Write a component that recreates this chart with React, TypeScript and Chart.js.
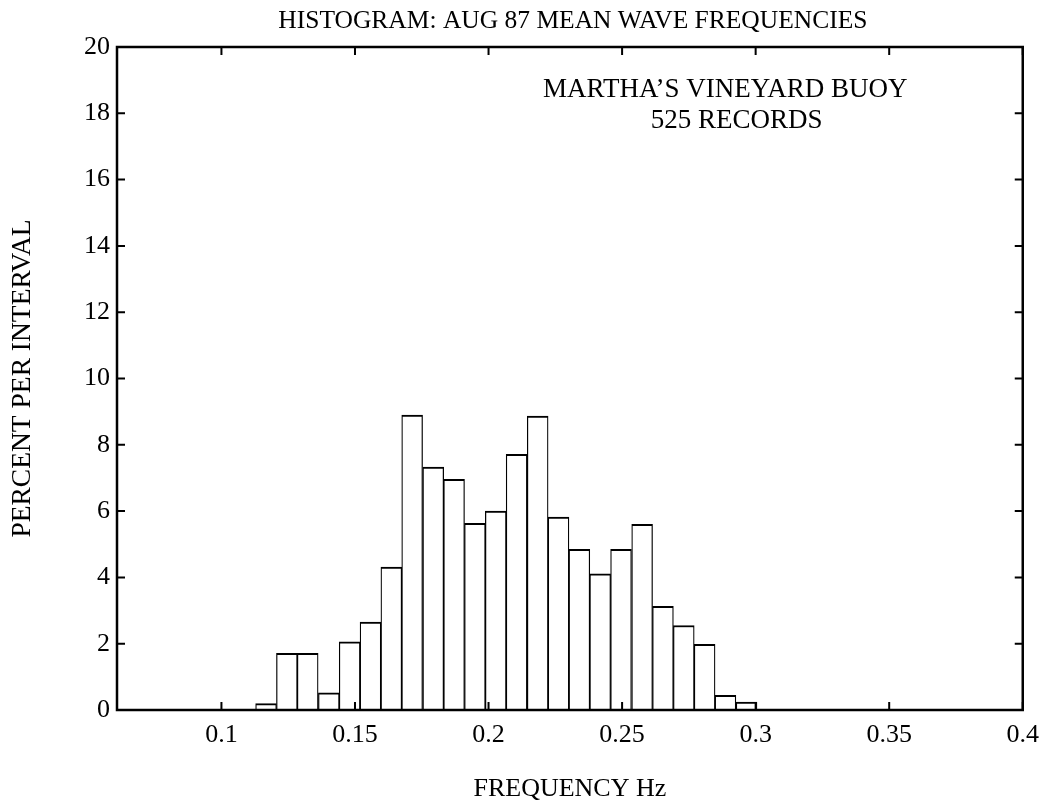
import React, { useEffect, useRef } from "react";
import { Chart, registerables } from "chart.js";

Chart.register(...registerables);

// Bin centres (Hz) and percent of records per interval
const binCenters = [
  0.1167, 0.1245, 0.1323, 0.1402, 0.148, 0.1558, 0.1636, 0.1714, 0.1793, 0.1871, 0.1949, 0.2027,
  0.2105, 0.2184, 0.2262, 0.234, 0.2418, 0.2496, 0.2575, 0.2653, 0.2731, 0.2809, 0.2887, 0.2966,
];
const percentValues = [
  0.19, 1.71, 1.71, 0.52, 2.06, 2.65, 4.31, 8.9, 7.33, 6.96, 5.63, 6.0,
  7.71, 8.87, 5.82, 4.85, 4.11, 4.85, 5.6, 3.13, 2.55, 1.98, 0.44, 0.24,
];
const xTickValues = [0.1, 0.15, 0.2, 0.25, 0.3, 0.35, 0.4];
const xTickLabels = ["0.1", "0.15", "0.2", "0.25", "0.3", "0.35", "0.4"];
const yTickValues = [0, 2, 4, 6, 8, 10, 12, 14, 16, 18, 20];
const yTickLabels = ["0", "2", "4", "6", "8", "10", "12", "14", "16", "18", "20"];

const chartTitle = "HISTOGRAM: AUG 87 MEAN WAVE FREQUENCIES";
const xAxisTitle = "FREQUENCY Hz";
const yAxisTitle = "PERCENT PER INTERVAL";
const noteLines = ["MARTHA\u2019S VINEYARD BUOY", "525 RECORDS"];
const noteX = [0.2886, 0.2929];
const noteY = [18.72, 17.78];

const FONT = '"Liberation Serif", "Times New Roman", Times, serif';

export default function App() {
  const ref = useRef<HTMLCanvasElement>(null);

  useEffect(() => {
    if (!ref.current) return;

    const framePlugin = {
      id: "frame",
      afterDraw(chart: any) {
        const { ctx, chartArea: a, scales } = chart;
        const xs = scales.x;
        const ys = scales.y;
        ctx.save();
        ctx.strokeStyle = "#000";
        ctx.lineWidth = 2.5;
        ctx.strokeRect(a.left, a.top, a.right - a.left, a.bottom - a.top);
        const tl = 8;
        ctx.lineWidth = 2;
        ctx.beginPath();
        xTickValues.forEach((v) => {
          const px = xs.getPixelForValue(v);
          ctx.moveTo(px, a.bottom);
          ctx.lineTo(px, a.bottom - tl);
          ctx.moveTo(px, a.top);
          ctx.lineTo(px, a.top + tl);
        });
        yTickValues.forEach((v) => {
          const py = ys.getPixelForValue(v);
          ctx.moveTo(a.left, py);
          ctx.lineTo(a.left + tl, py);
          ctx.moveTo(a.right, py);
          ctx.lineTo(a.right - tl, py);
        });
        ctx.stroke();

        ctx.fillStyle = "#000";
        ctx.textAlign = "center";
        ctx.textBaseline = "middle";
        ctx.font = `25.5px ${FONT}`;
        ctx.fillText(chartTitle, (a.left + a.right) / 2 + 3, a.top - 26);
        ctx.font = `27px ${FONT}`;
        noteLines.forEach((t, i) => {
          ctx.fillText(t, xs.getPixelForValue(noteX[i]), ys.getPixelForValue(noteY[i]));
        });
        ctx.restore();
      },
    };

    const chart = new Chart(ref.current, {
      type: "bar",
      data: {
        datasets: [
          {
            data: binCenters.map((c, i) => ({ x: c, y: percentValues[i] })),
            backgroundColor: "#ffffff",
            borderColor: "#000000",
            borderWidth: { top: 2, left: 1.25, right: 1.25, bottom: 0 },
            categoryPercentage: 1,
            barPercentage: 1,
          },
        ],
      },
      options: {
        animation: false,
        responsive: false,
        layout: { padding: { top: 47, right: 23, bottom: 0, left: 0 } },
        plugins: {
          legend: { display: false },
          tooltip: { enabled: false },
          title: { display: false },
        },
        scales: {
          x: {
            type: "linear",
            min: 0.0609,
            max: 0.4,
            offset: false,
            grid: { display: false, drawTicks: false, offset: false },
            border: { display: false },
            afterBuildTicks: (s: any) => {
              s.ticks = xTickValues.map((v) => ({ value: v }));
            },
            ticks: {
              autoSkip: false,
              maxRotation: 0,
              padding: 10,
              color: "#000",
              font: { family: FONT, size: 26 },
              callback: (v: any) => {
                const i = xTickValues.indexOf(Number(v));
                return i >= 0 ? xTickLabels[i] : "";
              },
            },
            title: {
              display: true,
              text: xAxisTitle,
              color: "#000",
              font: { family: FONT, size: 26 },
              padding: { top: 0, bottom: 3 },
            },
            afterFit: (s: any) => {
              s.height = 98;
            },
          },
          y: {
            type: "linear",
            min: 0,
            max: 20,
            grid: { display: false, drawTicks: false },
            border: { display: false },
            afterBuildTicks: (s: any) => {
              s.ticks = yTickValues.map((v) => ({ value: v }));
            },
            ticks: {
              autoSkip: false,
              padding: 7,
              color: "#000",
              font: { family: FONT, size: 26 },
              callback: (v: any) => {
                const i = yTickValues.indexOf(Number(v));
                return i >= 0 ? yTickLabels[i] : "";
              },
            },
            title: {
              display: true,
              text: yAxisTitle,
              color: "#000",
              font: { family: FONT, size: 27.5 },
              padding: { top: 6, bottom: 0 },
            },
            afterFit: (s: any) => {
              s.width = 117;
            },
          },
        },
      } as any,
      plugins: [framePlugin],
    });

    return () => chart.destroy();
  }, []);

  return (
    <div style={{ position: "absolute", left: 0, top: 0, width: 1049, height: 808, background: "#fff" }}>
      <canvas ref={ref} width={1049} height={808} style={{ display: "block" }} />
    </div>
  );
}
